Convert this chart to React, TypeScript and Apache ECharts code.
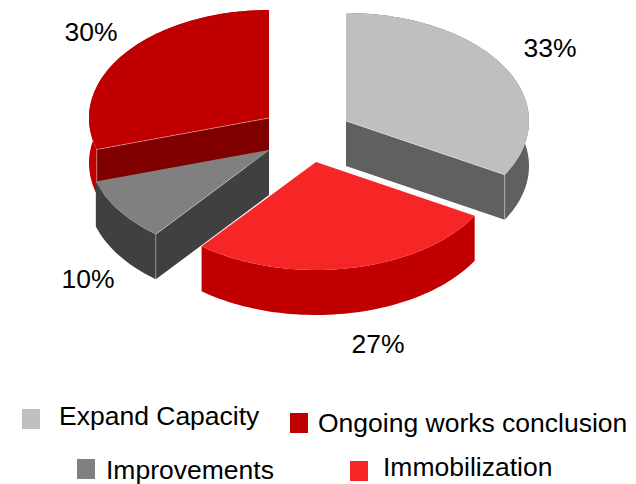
import React, { useEffect, useRef } from "react";
import * as echarts from "echarts";

const categories = ["Expand Capacity", "Immobilization", "Improvements", "Ongoing works conclusion"];
const shares = [33.3, 27.45, 9.55, 29.7];
const topColors = ["#bfbfbf", "#f72626", "#808080", "#c00000"];
const rimColors = ["#606060", "#c00000", "#404040", "#c00000"];
const faceColors = ["#606060", "#c00000", "#404040", "#800000"];
// exploded apex of each slice, in pixels
const apexX = [346, 316, 269, 269];
const apexY = [121, 162, 150, 118];
const radiusX = [183, 183, 181, 180];
// which straight wall faces the viewer: end of the slice, none, or start
const wallSide = ["end", "none", "start", "start"];
const drawOrder = [3, 0, 2, 1];

const RY = 108;
const DEPTH = 45;
const FONT = '"Liberation Sans", Arial, sans-serif';
const FONT_SIZE = 26.5;

const labelX = [550, 378, 88, 91];
const labelY = [48, 344, 279, 32];
const legendRows = [
  { idx: 0, sx: 22, sy: 409, tx: 59, ty: 416 },
  { idx: 3, sx: 290, sy: 413, tx: 318, ty: 423 },
  { idx: 2, sx: 77, sy: 459, tx: 106, ty: 470 },
  { idx: 1, sx: 350, sy: 461, tx: 383, ty: 467 },
];

const total = shares.reduce((a, b) => a + b, 0);
const startAngles = shares.map((_, i) => (shares.slice(0, i).reduce((a, b) => a + b, 0) / total) * Math.PI * 2);
const endAngles = shares.map((_, i) => (shares.slice(0, i + 1).reduce((a, b) => a + b, 0) / total) * Math.PI * 2);

function pt(i: number, a: number, dy = 0): number[] {
  return [apexX[i] + radiusX[i] * Math.sin(a), apexY[i] - RY * Math.cos(a) + dy];
}
function arc(i: number, dy = 0): number[][] {
  const a0 = startAngles[i];
  const a1 = endAngles[i];
  const n = Math.ceil((a1 - a0) / 0.03);
  const out: number[][] = [];
  for (let k = 0; k <= n; k++) out.push(pt(i, a0 + ((a1 - a0) * k) / n, dy));
  return out;
}

function renderSlice(dataIndex: number) {
  const i = drawOrder[dataIndex];
  const children: any[] = [];
  const top = arc(i);
  const bottom = arc(i, DEPTH).reverse();
  children.push({ type: "polygon", shape: { points: [...top, ...bottom] }, style: { fill: rimColors[i] } });
  const side = wallSide[i];
  if (side !== "none") {
    const a = side === "end" ? endAngles[i] : startAngles[i];
    const p = pt(i, a);
    const apex = [apexX[i], apexY[i]];
    children.push({
      type: "polygon",
      shape: { points: [apex, p, [p[0], p[1] + DEPTH], [apex[0], apex[1] + DEPTH]] },
      style: { fill: faceColors[i] },
    });
  }
  children.push({
    type: "polygon",
    shape: { points: [[apexX[i], apexY[i]], ...top] },
    style: { fill: topColors[i] },
  });
  if (side !== "none") {
    const a = side === "end" ? endAngles[i] : startAngles[i];
    const p = pt(i, a);
    children.push({
      type: "polyline",
      shape: { points: [[apexX[i], apexY[i]], p, [p[0], p[1] + DEPTH]] },
      style: { fill: "none", stroke: "rgba(255,255,255,0.45)", lineWidth: 0.8 },
    });
  }
  return { type: "group", children };
}

export default function App() {
  const ref = useRef<HTMLDivElement>(null);
  useEffect(() => {
    const chart = echarts.init(ref.current!, undefined, { renderer: "svg" });
    const labels = shares.map((v, i) => ({
      type: "text",
      x: labelX[i],
      y: labelY[i],
      style: {
        text: `${Math.round(v)}%`,
        font: `${FONT_SIZE}px ${FONT}`,
        fill: "#000",
        textAlign: "center",
        textVerticalAlign: "middle",
      },
    }));
    const legend = legendRows.flatMap((r) => [
      {
        type: "rect",
        shape: { x: r.sx, y: r.sy, width: 18, height: 20 },
        style: { fill: topColors[r.idx] },
      },
      {
        type: "text",
        x: r.tx,
        y: r.ty,
        style: {
          text: categories[r.idx],
          font: `${FONT_SIZE}px ${FONT}`,
          fill: "#000",
          textAlign: "left",
          textVerticalAlign: "middle",
        },
      },
    ]);
    chart.setOption({
      animation: false,
      backgroundColor: "#fff",
      series: [
        {
          type: "custom",
          coordinateSystem: "none",
          silent: true,
          data: drawOrder.map((i) => [shares[i]]),
          renderItem: (params: any) => renderSlice(params.dataIndex),
        },
      ],
      graphic: { elements: [...labels, ...legend] },
    });
    return () => chart.dispose();
  }, []);
  return <div ref={ref} style={{ position: "fixed", left: 0, top: 0, width: 636, height: 484 }} />;
}
